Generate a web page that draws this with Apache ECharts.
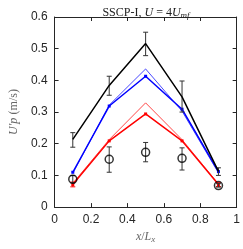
<!DOCTYPE html>
<html><head><meta charset="utf-8">
<script src="https://cdn.jsdelivr.net/npm/echarts@6/dist/echarts.min.js"></script>
<style>html,body{margin:0;padding:0;background:#fff}#c{width:243px;height:249px}</style>
</head><body><div id="c"></div>
<script>
const xPos = [0.1, 0.3, 0.5, 0.7, 0.9];
const blackLine = [0.214, 0.384, 0.516, 0.348, 0.113];
const blackLow = [0.189, 0.353, 0.478, 0.300, 0.100];
const blackHigh = [0.235, 0.413, 0.552, 0.398, 0.124];
const blueThick = [0.110, 0.319, 0.413, 0.309, 0.112];
const blueThin = [0.106, 0.322, 0.436, 0.303, 0.108];
const redThin = [0.075, 0.213, 0.329, 0.213, 0.073];
const redThick = [0.071, 0.209, 0.294, 0.209, 0.071];
const redLow = [0.064, null, null, null, 0.065];
const redHigh = [0.079, null, null, null, 0.077];
const exptVal = [0.088, 0.151, 0.173, 0.154, 0.068];
const exptLow = [0.076, 0.110, 0.143, 0.117, 0.063];
const exptHigh = [0.100, 0.190, 0.204, 0.187, 0.074];
const xTicks = [0, 0.2, 0.4, 0.6, 0.8, 1];
const yTicks = [0, 0.1, 0.2, 0.3, 0.4, 0.5, 0.6];

const pairs = a => xPos.map((x, i) => [x, a[i]]);
function errSeries(low, high, color, z) {
  const data = xPos.map((x, i) => [x, low[i], high[i]]).filter(d => d[1] != null);
  return {
    type: 'custom', z: z, xAxisIndex: 0, yAxisIndex: 0,
    data: data,
    renderItem: function (params, api) {
      const x = api.value(0);
      const p1 = api.coord([x, api.value(1)]);
      const p2 = api.coord([x, api.value(2)]);
      const w = 2.5;
      const st = { stroke: color, lineWidth: 1 };
      return { type: 'group', children: [
        { type: 'line', shape: { x1: p1[0], y1: p1[1], x2: p2[0], y2: p2[1] }, style: st },
        { type: 'line', shape: { x1: p1[0] - w, y1: p1[1], x2: p1[0] + w, y2: p1[1] }, style: st },
        { type: 'line', shape: { x1: p2[0] - w, y1: p2[1], x2: p2[0] + w, y2: p2[1] }, style: st }
      ]};
    }
  };
}
const axisCommon = {
  axisLine: { show: true, onZero: false, lineStyle: { color: '#262626', width: 1 } },
  axisTick: { show: true, inside: true, length: 4, lineStyle: { color: '#262626' } },
  splitLine: { show: false }
};
const serif = 'Liberation Serif';
const chart = echarts.init(document.getElementById('c'), null, { renderer: 'canvas' });
chart.setOption({
  animation: false,
  backgroundColor: '#fff',
  title: {
    text: '{n|SSCP-I, }{i|U}{n| = 4}{i|U}{s|mf}',
    left: 141, top: 1, textAlign: 'center',
    textStyle: {
      fontWeight: 'normal',
      rich: {
        n: { fontFamily: serif, fontWeight: 'normal', fontSize: 12, color: '#222' },
        i: { fontFamily: serif, fontWeight: 'normal', fontStyle: 'italic', fontSize: 12, color: '#222' },
        s: { fontFamily: serif, fontWeight: 'normal', fontStyle: 'italic', fontSize: 9, color: '#222', padding: [5, 0, 0, 0] }
      }
    }
  },
  grid: { left: 43, right: 4, top: 17, bottom: 36 },
  xAxis: [
    Object.assign({
      type: 'value', min: 0, max: 1, interval: 0.2, position: 'bottom',
      name: '{i|x}{n|/}{i|L}{s|x}', nameLocation: 'middle', nameGap: 22,
      nameTextStyle: { fontWeight: 'normal', rich: {
        i: { fontFamily: serif, fontWeight: 'normal', fontStyle: 'italic', fontSize: 12, color: '#666' },
        n: { fontFamily: serif, fontWeight: 'normal', fontSize: 12, color: '#666' },
        s: { fontFamily: serif, fontWeight: 'normal', fontStyle: 'italic', fontSize: 9, color: '#666', padding: [5, 0, 0, 0] }
      } },
      axisLabel: { fontFamily: 'Liberation Sans', fontSize: 12, color: '#262626', margin: 7,
        formatter: v => xTicks.indexOf(v) >= 0 ? String(v) : '' }
    }, axisCommon),
    Object.assign({ type: 'value', min: 0, max: 1, interval: 0.2, position: 'top', axisLabel: { show: false } }, axisCommon)
  ],
  yAxis: [
    Object.assign({
      type: 'value', min: 0, max: 0.6, interval: 0.1, position: 'left',
      name: "{i|U'p} {n|(m/s)}", nameLocation: 'middle', nameGap: 27, nameRotate: 90,
      nameTextStyle: { fontWeight: 'normal', rich: {
        i: { fontFamily: serif, fontWeight: 'normal', fontStyle: 'italic', fontSize: 12, color: '#666' },
        n: { fontFamily: serif, fontWeight: 'normal', fontSize: 12, color: '#666' }
      } },
      axisLabel: { fontFamily: 'Liberation Sans', fontSize: 12, color: '#262626', margin: 7,
        formatter: v => { const r = Math.round(v * 10) / 10; return yTicks.indexOf(r) >= 0 ? String(r) : ''; } }
    }, axisCommon),
    Object.assign({ type: 'value', min: 0, max: 0.6, interval: 0.1, position: 'right', axisLabel: { show: false } }, axisCommon)
  ],
  series: [
    { type: 'line', data: pairs(blueThin), symbol: 'none', lineStyle: { color: '#3333ff', width: 0.9 }, z: 2 },
    { type: 'line', data: pairs(redThin), symbol: 'none', lineStyle: { color: '#ff3333', width: 0.9 }, z: 2 },
    { type: 'line', data: pairs(blueThick), symbol: 'rect', symbolSize: 3, showSymbol: true, itemStyle: { color: '#0000ff' }, lineStyle: { color: '#0000ff', width: 1.5 }, z: 3 },
    { type: 'line', data: pairs(redThick), symbol: 'rect', symbolSize: 3, showSymbol: true, itemStyle: { color: '#ff0000' }, lineStyle: { color: '#ff0000', width: 1.5 }, z: 3 },
    errSeries(redLow, redHigh, '#ff0000', 3),
    { type: 'line', data: pairs(blackLine), symbol: 'none', lineStyle: { color: '#000', width: 1.5 }, z: 4 },
    errSeries(blackLow, blackHigh, '#333', 4),
    errSeries(exptLow, exptHigh, '#333', 5),
    { type: 'scatter', data: pairs(exptVal), symbol: 'circle', symbolSize: 8,
      itemStyle: { color: 'rgba(0,0,0,0)', borderColor: '#000', borderWidth: 1.5 }, z: 6 }
  ]
});
</script></body></html>
